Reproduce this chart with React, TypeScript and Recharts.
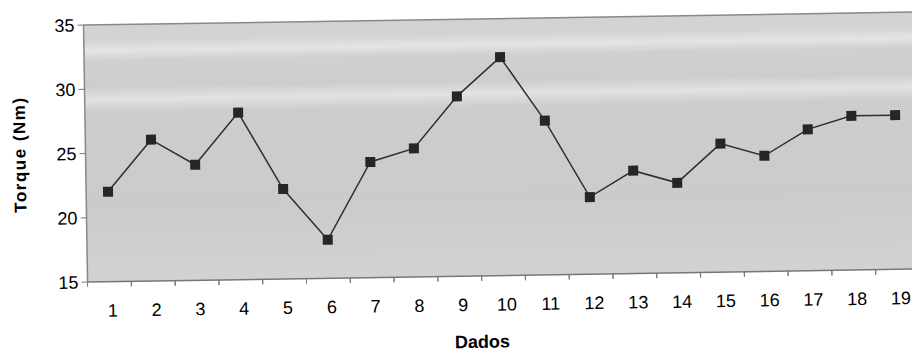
import {LineChart, Line, CartesianGrid, YAxis, XAxis, ReferenceLine, Label} from "recharts";

const dados = ["1", "2", "3", "4", "5", "6", "7", "8", "9", "10", "11", "12", "13", "14", "15", "16", "17", "18", "19"];
const torque = [22, 26, 24, 28, 22, 18, 24, 25, 29, 32, 27, 21, 23, 22, 25, 24, 26, 27, 27];
const yTicks = [15, 20, 25, 30, 35];

const data = dados.map((d, i) => ({dado: d, torque: torque[i]}));

const W = 930;
const H = 346;
const Y_W = 78;
const M_RIGHT = 20;
const band = (W - Y_W - M_RIGHT) / dados.length;
const font = "'Liberation Sans', Arial, sans-serif";

const SquareDot = (props: any) => {
    const {cx, cy} = props;
    if (cx == null || cy == null) return null;
    return <rect x={cx - 5} y={cy - 5} width={10} height={10} fill="#262626" />;
};

const XTick = (props: any) => {
    const {x, y, payload} = props;
    return (
        <g>
            <line x1={x - band / 2} y1={y} x2={x - band / 2} y2={y + 5} stroke="#777" />
            <line x1={x + band / 2} y1={y} x2={x + band / 2} y2={y + 5} stroke="#777" />
            <text x={x + 3} y={y + 35} textAnchor="middle" fontSize={18} fill="#000" fontFamily={font}>
                {payload.value}
            </text>
        </g>
    );
};

export default function App() {
    return (
        <>
            <style>{"html,body{margin:0;padding:0;overflow:hidden;background:#fff}"}</style>
            <div style={{width: 912, height: 354, overflow: "hidden", position: "relative"}}>
                <div style={{position: "absolute", left: 8, top: 8, width: W, height: H, transform: "rotate(-0.9deg)", transformOrigin: "center"}}>
                    <LineChart width={W} height={H} data={data} margin={{top: 11, right: M_RIGHT, bottom: 0, left: 0}}>
                        <defs>
                            <linearGradient id="bg" x1="0" y1="0" x2="0" y2="1">
                                <stop offset="0" stopColor="#d2d2d2" />
                                <stop offset="0.06" stopColor="#d4d4d4" />
                                <stop offset="0.1" stopColor="#e4e4e4" />
                                <stop offset="0.14" stopColor="#d0d0d0" />
                                <stop offset="0.24" stopColor="#cdcdcd" />
                                <stop offset="0.29" stopColor="#e2e2e2" />
                                <stop offset="0.34" stopColor="#cdcdcd" />
                                <stop offset="0.7" stopColor="#cbcbcb" />
                                <stop offset="1" stopColor="#d2d2d2" />
                            </linearGradient>
                        </defs>
                        <CartesianGrid horizontal={false} vertical={false} fill="url(#bg)" />
                        <XAxis
                            dataKey="dado"
                            scale="band"
                            height={78}
                            tick={<XTick />}
                            tickLine={false}
                            tickSize={0}
                            tickMargin={0}
                            axisLine={{stroke: "#777", strokeWidth: 1.5}}
                            interval={0}
                        >
                            <Label value="Dados" position="insideBottom" offset={6} dx={-22}
                                   style={{fontFamily: font, fontSize: 18, fontWeight: "bold", fill: "#000"}} />
                        </XAxis>
                        <YAxis
                            width={Y_W}
                            domain={[15, 35]}
                            ticks={yTicks}
                            tickSize={6}
                            tickMargin={3}
                            tick={{fontSize: 18, fill: "#000", fontFamily: font}}
                            tickLine={{stroke: "#777"}}
                            axisLine={{stroke: "#888", strokeWidth: 1.5}}
                        >
                            <Label value="Torque (Nm)" angle={-90} position="insideLeft" offset={12}
                                   style={{fontFamily: font, fontSize: 17, fontWeight: "bold", fill: "#000", textAnchor: "middle", letterSpacing: 1.5}} />
                        </YAxis>
                        <ReferenceLine y={35} stroke="#888" strokeWidth={1.5} />
                        <Line
                            type="linear"
                            dataKey="torque"
                            stroke="#2e2e2e"
                            strokeWidth={1.5}
                            dot={<SquareDot />}
                            activeDot={false}
                            isAnimationActive={false}
                        />
                    </LineChart>
                </div>
            </div>
        </>
    );
}
